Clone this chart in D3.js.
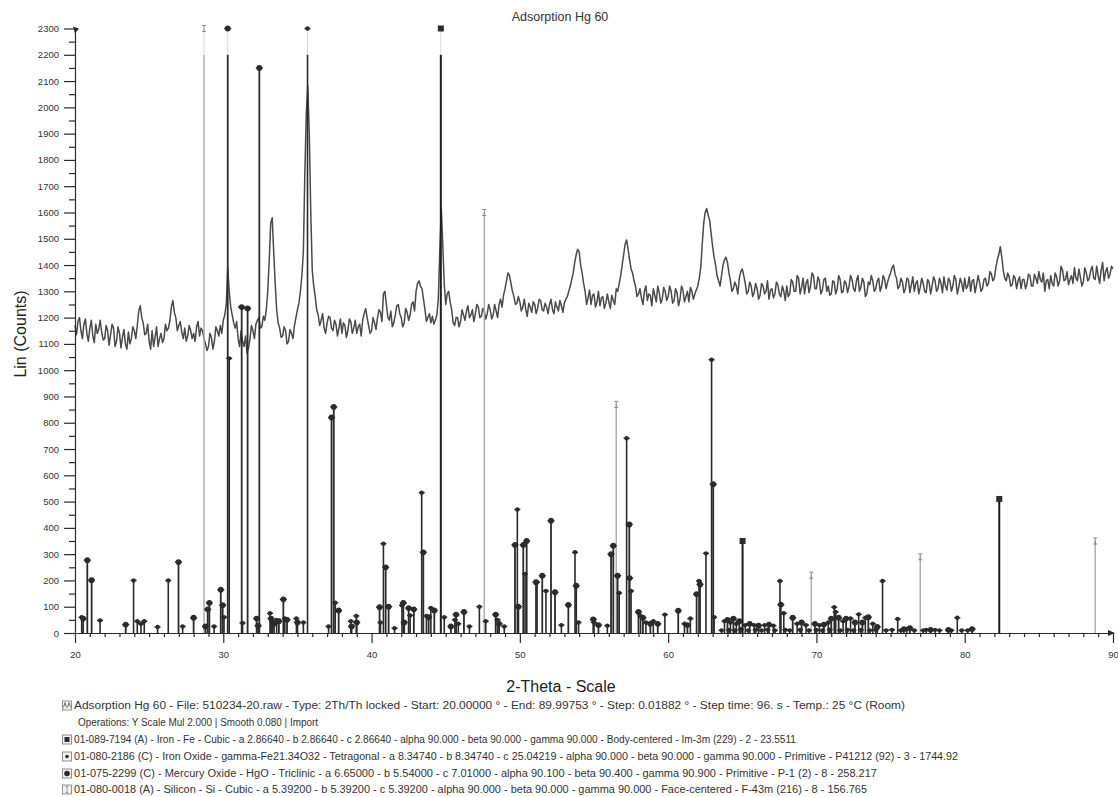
<!DOCTYPE html>
<html><head><meta charset="utf-8">
<script src="https://cdnjs.cloudflare.com/ajax/libs/d3/7.8.5/d3.min.js"></script>
<style>
body{margin:0;background:#fff;}
svg{display:block;font-family:"Liberation Sans",Arial,sans-serif;}
</style>
</head><body>
<svg id="c" width="1118" height="797"></svg>
<script>
// ---------------- DATA ----------------
const chartTitle = "Adsorption Hg 60";
const xAxisTitle = "2-Theta - Scale";
const yAxisTitle = "Lin (Counts)";
const xTickLabels = [20, 30, 40, 50, 60, 70, 80, 90];
const yTickLabels = [0,100,200,300,400,500,600,700,800,900,1000,1100,1200,1300,1400,1500,1600,1700,1800,1900,2000,2100,2200,2300];

const scanStart = 20.0;
const scanStep = 0.2;
const scanCountsEven = [
 1170,1185,1150,1175,1140,1160,1130,1175,1155,1145,
 1120,1150,1135,1160,1110,1140,1125,1100,1145,1120,
 1150,1170,1245,1180,1140,1110,1150,1125,1090,1140,
 1120,1150,1190,1265,1200,1170,1145,1160,1130,1150,
 1140,1165,1130,1150,1100,1090,1125,1110,1150,1170,
 1190,1250,1300,1210,1160,1120,1150,1090,1065,1120,
 1150,1175,1200,1165,1190,1300,1560,1450,1230,1160,
 1130,1150,1110,1140,1170,1230,1300,1450,1980,1900,
 1380,1280,1210,1190,1160,1180,1200,1150,1175,1160,
 1140,1170,1150,1185,1160,1140,1175,1190,1235,1170,
 1150,1180,1200,1220,1290,1250,1190,1165,1210,1250,
 1200,1180,1220,1210,1260,1300,1340,1310,1230,1200,
 1180,1175,1210,1450,1480,1250,1300,1230,1170,1200,
 1185,1210,1225,1200,1230,1215,1240,1205,1225,1215,
 1230,1210,1225,1250,1240,1310,1370,1330,1280,1255,
 1260,1240,1230,1255,1220,1250,1235,1265,1225,1240,
 1250,1230,1260,1225,1245,1255,1280,1320,1370,1440,
 1450,1370,1300,1275,1250,1290,1260,1245,1280,1255,
 1260,1285,1250,1300,1360,1440,1495,1420,1370,1320,
 1290,1275,1300,1265,1285,1310,1260,1295,1270,1300,
 1280,1300,1265,1295,1270,1305,1280,1260,1300,1290,
 1320,1390,1560,1615,1570,1470,1400,1340,1360,1420,
 1410,1340,1310,1320,1350,1385,1330,1300,1320,1295,
 1310,1285,1320,1300,1270,1310,1290,1325,1280,1300,
 1320,1290,1335,1300,1350,1315,1290,1345,1320,1360,
 1310,1340,1305,1350,1320,1290,1335,1310,1345,1300,
 1330,1320,1345,1300,1360,1315,1335,1290,1325,1340,
 1310,1350,1320,1345,1335,1370,1400,1350,1320,1335,
 1310,1345,1325,1300,1340,1315,1330,1295,1335,1320,
 1340,1310,1330,1355,1305,1340,1320,1345,1315,1330,
 1350,1320,1300,1345,1325,1335,1310,1350,1330,1365,
 1350,1420,1470,1380,1340,1355,1325,1350,1340,1310,
 1345,1330,1360,1320,1350,1375,1335,1300,1345,1360,
 1320,1355,1340,1380,1345,1325,1360,1390,1340,1355,
 1335,1370,1350,1395,1345,1360,1380,1340,1390,1365,
 1385
];
// counts at 20.1, 20.3, ... 89.9
const scanCountsOdd = [
 1135,1200,1120,1195,1110,1190,1105,1140,1190,1115,
 1170,1095,1175,1090,1165,1085,1155,1080,1100,1165,
 1120,1225,1200,1135,1175,1080,1090,1165,1120,1105,
 1175,1160,1240,1220,1150,1185,1120,1110,1170,1120,
 1110,1185,1160,1120,1075,1140,1080,1165,1130,1140,
 1210,1390,1240,1180,1185,1090,1110,1130,1085,1170,
 1120,1190,1160,1205,1230,1420,1580,1330,1180,1125,
 1165,1100,1155,1120,1200,1255,1360,1750,2080,1600,
 1320,1230,1170,1215,1140,1205,1160,1190,1130,1195,
 1180,1125,1195,1140,1190,1165,1130,1215,1200,1140,
 1200,1155,1230,1185,1300,1200,1225,1180,1245,1215,
 1165,1235,1190,1250,1225,1330,1320,1270,1185,1215,
 1205,1190,1270,1620,1330,1290,1260,1180,1200,1165,
 1230,1190,1245,1210,1185,1250,1200,1235,1195,1250,
 1195,1250,1200,1270,1285,1340,1360,1300,1250,1280,
 1225,1270,1205,1240,1260,1215,1270,1230,1255,1215,
 1270,1215,1240,1265,1220,1270,1300,1345,1410,1460,
 1400,1330,1250,1305,1285,1240,1300,1275,1235,1290,
 1235,1265,1310,1330,1400,1480,1460,1385,1340,1280,
 1310,1250,1320,1290,1245,1285,1320,1255,1315,1265,
 1320,1255,1310,1245,1320,1260,1300,1315,1270,1305,
 1350,1480,1600,1590,1520,1430,1360,1320,1400,1430,
 1370,1300,1335,1290,1375,1360,1290,1335,1280,1330,
 1270,1330,1290,1340,1305,1275,1335,1290,1320,1265,
 1280,1345,1300,1360,1290,1350,1330,1295,1370,1310,
 1355,1290,1345,1300,1285,1340,1290,1360,1295,1340,
 1295,1360,1310,1340,1300,1350,1280,1335,1360,1300,
 1340,1300,1360,1310,1355,1390,1365,1310,1350,1295,
 1350,1295,1355,1330,1290,1350,1300,1345,1290,1355,
 1300,1350,1295,1320,1350,1300,1360,1290,1350,1300,
 1310,1355,1340,1295,1360,1300,1345,1320,1375,1340,
 1390,1440,1430,1350,1370,1320,1360,1310,1355,1345,
 1310,1365,1320,1365,1330,1345,1370,1340,1310,1330,
 1370,1320,1395,1340,1375,1345,1330,1350,1385,1320,
 1390,1340,1380,1350,1395,1330,1410,1375,1350,1395
];

// reference patterns: [2theta, intensity]
const ironSticks = [[44.67,2300],[65.02,350],[82.33,510]];
const ironOxideSticks = [
 [20.45,60],[21.69,48],[23.95,200],[24.2,45],[24.45,35],[24.67,45],[25.57,23],[26.29,200],[27.26,25],[29.38,25],
 [30.05,60],[30.4,1045],[31.3,38],[33.15,75],[33.3,45],[33.6,50],[34.15,55],[34.93,55],[35.4,40],[35.68,2300],
 [37.1,25],[37.55,115],[38.6,45],[38.97,65],[40.6,40],[40.8,340],[41.55,18],[42.05,105],[42.6,67],[43.38,534],
 [43.7,65],[44.0,95],[44.9,60],[45.62,50],[45.85,35],[46.6,25],[47.27,100],[47.7,45],[48.5,50],[48.95,25],
 [49.83,470],[50.35,225],[51.16,193],[51.76,160],[52.8,30],[53.72,307],[53.96,40],[55.0,40],[55.9,28],[56.7,152],
 [57.2,741],[57.5,160],[58.14,65],[58.5,40],[59.0,45],[59.78,70],[61.1,35],[61.5,55],[62.08,198],[62.55,303],
 [62.93,1040],[63.1,60],[63.6,10],[63.8,45],[64.1,12],[64.2,40],[64.5,10],[64.6,35],[64.9,14],[65.2,30],
 [65.4,10],[65.8,30],[65.9,12],[66.3,10],[66.5,30],[66.7,13],[67.1,28],[67.2,10],[67.54,198],[67.8,75],
 [67.9,12],[68.2,10],[68.7,35],[68.9,12],[69.3,30],[69.5,10],[70.0,12],[70.2,30],[70.4,10],[70.8,40],
 [70.9,13],[71.2,98],[71.3,80],[71.6,10],[71.8,45],[72.1,12],[72.3,55],[72.5,10],[72.85,71],[73.0,12],
 [73.3,58],[73.6,10],[73.8,35],[74.0,12],[74.46,198],[74.7,10],[75.1,12],[75.48,53],[75.7,10],[76.1,15],
 [76.6,10],[77.2,10],[77.4,12],[78.0,12],[78.3,10],[79.1,10],[79.5,58],[79.8,10],[80.2,10]
];
const mercuryOxideSticks = [
 [20.55,55],[20.83,277],[21.12,201],[23.42,32],[26.98,270],[28.0,58],[28.8,25],[28.95,90],[29.06,115],[29.83,165],
 [29.96,106],[30.3,2300],[31.24,1240],[31.64,1235],[32.25,55],[32.35,28],[32.43,2150],[33.22,55],[33.42,35],[33.75,45],
 [34.05,128],[34.3,50],[35.0,40],[37.3,820],[37.45,860],[37.78,86],[38.65,25],[39.0,40],[40.54,98],[40.95,250],
 [41.15,100],[42.14,115],[42.2,40],[42.5,95],[42.85,90],[43.49,307],[43.85,60],[44.23,86],[45.35,25],[45.7,70],
 [46.23,80],[48.37,70],[48.6,35],[49.67,335],[49.9,100],[50.23,335],[50.46,350],[51.09,193],[51.51,218],[52.1,427],
 [52.37,155],[53.27,107],[53.8,180],[54.95,52],[55.3,30],[56.15,300],[56.3,332],[56.59,218],[57.38,413],[57.4,209],
 [58.0,80],[58.3,58],[58.8,35],[59.3,35],[60.68,85],[61.3,30],[61.92,148],[62.15,185],[63.04,566],[64.0,50],
 [64.4,55],[64.8,45],[65.5,35],[66.1,28],[66.8,32],[67.6,108],[68.4,58],[69.0,40],[69.9,35],[70.5,32],
 [71.0,55],[71.5,58],[72.0,55],[72.6,40],[73.1,40],[73.5,60],[74.1,23],[75.9,15],[76.3,18],[77.7,12],
 [78.9,12],[80.5,15]
];
const siliconSticks = [[28.7,2300],[47.6,1600],[56.5,870],[69.65,220],[77.0,290],[88.8,350]];

const legendLines = [
 "Adsorption Hg 60 - File: 510234-20.raw - Type: 2Th/Th locked - Start: 20.00000 \u00b0 - End: 89.99753 \u00b0 - Step: 0.01882 \u00b0 - Step time: 96. s - Temp.: 25 \u00b0C (Room)",
 "Operations: Y Scale Mul  2.000 | Smooth 0.080 | Import",
 "01-089-7194 (A) - Iron - Fe - Cubic - a 2.86640 - b 2.86640 - c 2.86640 - alpha 90.000 - beta 90.000 - gamma 90.000 - Body-centered - Im-3m (229) - 2 - 23.5511",
 "01-080-2186 (C) - Iron Oxide - gamma-Fe21.34O32 - Tetragonal - a 8.34740 - b 8.34740 - c 25.04219 - alpha 90.000 - beta 90.000 - gamma 90.000 - Primitive - P41212 (92) - 3 - 1744.92",
 "01-075-2299 (C) - Mercury Oxide - HgO - Triclinic - a 6.65000 - b 5.54000 - c 7.01000 - alpha 90.100 - beta 90.400 - gamma 90.900 - Primitive - P-1 (2) - 8 - 258.217",
 "01-080-0018 (A) - Silicon - Si - Cubic - a 5.39200 - b 5.39200 - c 5.39200 - alpha 90.000 - beta 90.000 - gamma 90.000 - Face-centered - F-43m (216) - 8 - 156.765"
];
const legendIcons = ["scan", "none", "iron", "ironOxide", "mercuryOxide", "silicon"];

// ---------------- DRAW ----------------
const svg = d3.select("#c");
const x = d3.scaleLinear().domain([20, 90]).range([75, 1113]);
const y = d3.scaleLinear().domain([0, 2300]).range([633, 28.5]);
const ink = "#2b2b2b";
const stickClip = 2200;

// title
svg.append("text").attr("x", 560).attr("y", 21).attr("text-anchor", "middle")
  .style("font-size", "12.5px").attr("fill", "#333").text(chartTitle);

// scan trace
const scan = [];
scanCountsEven.forEach((c, i) => {
  scan.push([scanStart + i * scanStep, c]);
  if (i < scanCountsOdd.length) scan.push([scanStart + (i + 0.5) * scanStep, scanCountsOdd[i]]);
});
svg.append("path").datum(scan)
  .attr("fill", "none").attr("stroke", "#4a4a4a").attr("stroke-width", 1.5)
  .attr("stroke-linejoin", "round")
  .attr("d", d3.line().x(d => x(d[0])).y(d => y(d[1])));

// sticks
function drawSticks(data, color, width, marker) {
  const g = svg.append("g");
  g.selectAll("line.main").data(data).join("line").attr("class", "main")
    .attr("x1", d => x(d[0])).attr("x2", d => x(d[0]))
    .attr("y1", y(0)).attr("y2", d => y(Math.min(d[1], stickClip)))
    .attr("stroke", color).attr("stroke-width", width);
  g.selectAll("line.over").data(data.filter(d => d[1] > stickClip)).join("line").attr("class", "over")
    .attr("x1", d => x(d[0])).attr("x2", d => x(d[0]))
    .attr("y1", y(stickClip)).attr("y2", d => y(d[1]))
    .attr("stroke", "#d8d8d8").attr("stroke-width", 1);
  const m = g.selectAll("g.m").data(data).join("g").attr("class", "m")
    .attr("transform", d => `translate(${x(d[0])},${y(d[1])})`);
  marker(m);
}
const markIron = s => s.append("rect").attr("x", -3).attr("y", -3).attr("width", 6).attr("height", 6).attr("fill", ink);
const markIronOxide = s => {
  s.append("line").attr("x1", -3).attr("x2", 3).attr("stroke", ink).attr("stroke-width", 1.5);
  s.append("circle").attr("r", 2.2).attr("fill", ink);
};
const markMercury = s => {
  s.append("line").attr("x1", -3.5).attr("x2", 3.5).attr("stroke", ink).attr("stroke-width", 1.5);
  s.append("circle").attr("r", 2.9).attr("fill", ink);
};
const markSilicon = s => {
  s.append("path").attr("d", "M-2,-3H2M0,-3V3M-2,3H2").attr("stroke", "#888").attr("stroke-width", 1).attr("fill", "none");
};
drawSticks(siliconSticks, "#a9a9a9", 1.4, markSilicon);
drawSticks(mercuryOxideSticks, ink, 1.8, markMercury);
drawSticks(ironOxideSticks, ink, 1.6, markIronOxide);
drawSticks(ironSticks, "#1e1e1e", 2, markIron);

// axes
svg.append("g").attr("transform", "translate(75,0)")
  .call(d3.axisLeft(y).tickValues(yTickLabels).tickSize(11).tickSizeOuter(0).tickPadding(5).tickFormat(d3.format("d")));
svg.append("g").attr("transform", "translate(75,0)")
  .call(d3.axisLeft(y).tickValues(d3.range(50, 2300, 100)).tickSize(6).tickSizeOuter(0).tickFormat(""))
  .select(".domain").remove();
svg.append("g").attr("transform", "translate(0,633)")
  .call(d3.axisBottom(x).tickValues(xTickLabels).tickSize(10).tickSizeOuter(0).tickPadding(8).tickFormat(d3.format("d")));
svg.append("g").attr("transform", "translate(0,633)")
  .call(d3.axisBottom(x).tickValues(d3.range(21, 90, 1).filter(v => v % 10 !== 0)).tickSize(4).tickSizeOuter(0).tickFormat(""))
  .select(".domain").remove();
svg.selectAll(".tick line, .domain").attr("stroke", ink).attr("stroke-width", 1.2);
svg.selectAll(".tick text").style("font-size", "9.5px").attr("fill", "#333").style("font-family", "'Liberation Sans',Arial,sans-serif");
// axis end arrows
svg.append("path").attr("d", `M${x(90)-5},${y(0)-3}L${x(90)+2},${y(0)}L${x(90)-5},${y(0)+3}Z`).attr("fill", ink);
svg.append("path").attr("d", `M73,${y(2300)-2}L79,${y(2300)}L75,${y(2300)+5}Z`).attr("fill", ink);

// axis titles
svg.append("text").attr("x", 561).attr("y", 692).attr("text-anchor", "middle")
  .style("font-size", "16px").attr("fill", "#222").text(xAxisTitle);
svg.append("text").attr("transform", "translate(26,334) rotate(-90)").attr("text-anchor", "middle")
  .style("font-size", "16px").attr("fill", "#222").text(yAxisTitle);

// legend
const legendY = [709, 726, 743, 760, 777, 793];
const legendX = [74, 78, 74, 74, 74, 74];
const legendEnd = [905, 318, 796, 958, 877, 867];
const lg = svg.append("g");
legendLines.forEach((t, i) => {
  lg.append("text").attr("x", legendX[i]).attr("y", legendY[i])
    .attr("textLength", legendEnd[i] - legendX[i]).attr("lengthAdjust", "spacingAndGlyphs")
    .style("font-size", "10px").attr("fill", "#333").text(t);
  const kind = legendIcons[i];
  if (kind === "none") return;
  const ic = lg.append("g").attr("transform", `translate(67,${legendY[i] - 3.5})`);
  ic.append("rect").attr("x", -4.5).attr("y", -4.5).attr("width", 9).attr("height", 9)
    .attr("fill", "#f2f2f2").attr("stroke", "#777").attr("stroke-width", 0.8);
  if (kind === "scan") ic.append("path").attr("d", "M-3.5,2L-2,-3L-0.5,2M0.5,2L2,-3L3.5,2").attr("fill", "none").attr("stroke", "#555").attr("stroke-width", 0.8);
  if (kind === "iron") ic.append("rect").attr("x", -2.5).attr("y", -2.5).attr("width", 5).attr("height", 5).attr("fill", ink);
  if (kind === "ironOxide") ic.append("circle").attr("r", 1.8).attr("fill", ink);
  if (kind === "mercuryOxide") ic.append("circle").attr("r", 2.8).attr("fill", ink);
  if (kind === "silicon") ic.append("path").attr("d", "M-1.5,-3H1.5M0,-3V3M-1.5,3H1.5").attr("stroke", "#999").attr("fill", "none");
});
</script>
</body></html>
